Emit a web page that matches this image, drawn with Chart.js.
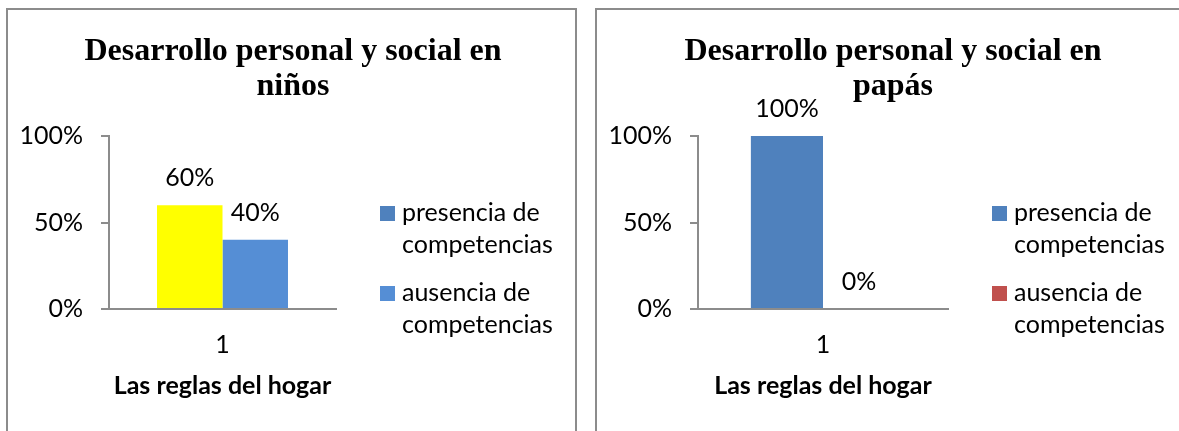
<!DOCTYPE html>
<html>
<head>
<meta charset="utf-8">
<script src="https://cdn.jsdelivr.net/npm/chart.js@4.4.1/dist/chart.umd.min.js"></script>
<style>
  body { margin: 0; background: #fff; width: 1179px; height: 431px; overflow: hidden; position: relative; }
  .panel { position: absolute; top: 8px; border: 2px solid #8c8c8c; height: 440px; }
  #p1 { left: 6px; width: 567px; }
  #p2 { left: 595px; width: 600px; }
  canvas { position: absolute; left: 0; top: 0; }
</style>
</head>
<body>
<div class="panel" id="p1"><canvas id="chart1" width="567" height="421"></canvas></div>
<div class="panel" id="p2"><canvas id="chart2" width="582" height="421"></canvas></div>
<script>
// datos
const categorias = ['1'];
const tituloEje = 'Las reglas del hogar';
const series = [['presencia de', 'competencias'], ['ausencia de', 'competencias']];

const titulo1 = ['Desarrollo personal y social en', 'niños'];
const presencia1 = [60];
const ausencia1 = [40];

const titulo2 = ['Desarrollo personal y social en', 'papás'];
const presencia2 = [100];
const ausencia2 = [0];

const yTicks = [0, 50, 100];

const fuente = 'Lato, Carlito, Calibri, sans-serif';

// titulo dibujado a mano (centrado donde lo pone Excel)
const tituloPlugin = {
  id: 'tituloPlugin',
  afterDraw(chart, args, opts) {
    const ctx = chart.ctx;
    ctx.save();
    ctx.font = 'bold 32px "Liberation Serif", "Times New Roman", serif';
    ctx.fillStyle = '#000';
    ctx.textAlign = 'center';
    ctx.textBaseline = 'middle';
    opts.text.forEach((t, i) => ctx.fillText(t, opts.x, 42 + i * 35));
    ctx.restore();
  }
};

// etiquetas de valores encima de las barras
const valoresPlugin = {
  id: 'valoresPlugin',
  afterDatasetsDraw(chart) {
    const ctx = chart.ctx;
    ctx.save();
    ctx.font = '25px ' + fuente;
    ctx.fillStyle = '#000';
    ctx.textAlign = 'center';
    ctx.textBaseline = 'middle';
    chart.data.datasets.forEach((ds, i) => {
      chart.getDatasetMeta(i).data.forEach((bar, j) => {
        ctx.fillText(ds.data[j] + '%', bar.x, bar.y - 27);
      });
    });
    ctx.restore();
  }
};

// leyenda con texto en dos lineas
const leyendaPlugin = {
  id: 'leyendaPlugin',
  afterDraw(chart, args, opts) {
    const ctx = chart.ctx;
    const x = chart.chartArea.right + 44;
    ctx.save();
    ctx.font = '25px ' + fuente;
    ctx.textBaseline = 'middle';
    ctx.textAlign = 'left';
    series.forEach((lineas, i) => {
      const y0 = 203 + i * 80;
      ctx.fillStyle = opts.colores[i];
      ctx.fillRect(x, y0 - 7, 15, 15);
      ctx.fillStyle = '#000';
      lineas.forEach((l, k) => ctx.fillText(l, x + 22, y0 + k * 32));
    });
    ctx.restore();
  }
};

function grafico(id, titulo, datos1, datos2, colores, leyendaColores, tituloX, padDer) {
  return new Chart(document.getElementById(id), {
    type: 'bar',
    data: {
      labels: categorias,
      datasets: [
        { label: series[0].join(' '), data: datos1, backgroundColor: colores[0] },
        { label: series[1].join(' '), data: datos2, backgroundColor: colores[1] }
      ]
    },
    options: {
      responsive: false,
      animation: false,
      categoryPercentage: 0.577,
      barPercentage: 1,
      layout: { padding: { top: 126, left: 0, right: padDer, bottom: 0 } },
      plugins: {
        legend: { display: false },
        title: { display: false },
        tooltip: { enabled: false },
        tituloPlugin: { text: titulo, x: tituloX },
        leyendaPlugin: { colores: leyendaColores }
      },
      scales: {
        x: {
          afterFit: s => { s.height = 122; },
          grid: { display: false },
          border: { color: '#8c8c8c', width: 2 },
          ticks: { color: '#000', font: { family: fuente, size: 25 }, padding: 13 },
          title: {
            display: true,
            text: tituloEje,
            color: '#000',
            font: { family: fuente, size: 25, weight: 'bold' },
            padding: { top: 0, bottom: 30 }
          }
        },
        y: {
          min: 0,
          max: 100,
          afterFit: s => { s.width = 101; },
          afterBuildTicks: s => { s.ticks = yTicks.map(v => ({ value: v })); },
          grid: { drawOnChartArea: false, tickLength: 8, color: '#8c8c8c', lineWidth: 2 },
          border: { color: '#8c8c8c', width: 2 },
          ticks: {
            color: '#000',
            font: { family: fuente, size: 25 },
            padding: 18,
            callback: v => v + '%'
          }
        }
      }
    },
    plugins: [tituloPlugin, valoresPlugin, leyendaPlugin]
  });
}

grafico('chart1', titulo1, presencia1, ausencia1, ['#FFFF00', '#558ED5'], ['#4F81BD', '#558ED5'], 285, 239);
grafico('chart2', titulo2, presencia2, ausencia2, ['#4F81BD', '#C0504D'], ['#4F81BD', '#C0504D'], 296, 231);
</script>
</body>
</html>
